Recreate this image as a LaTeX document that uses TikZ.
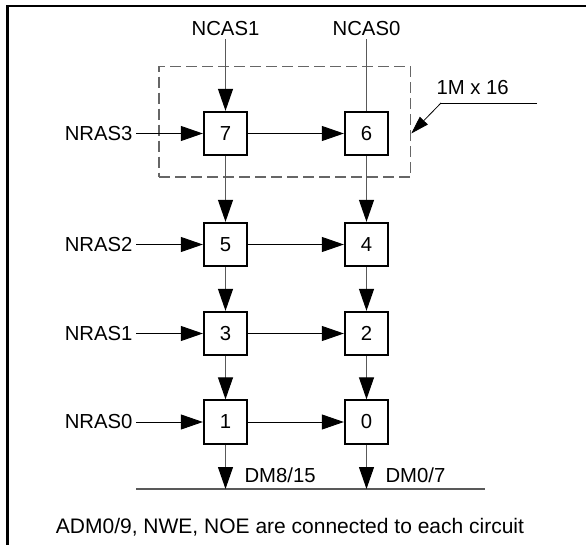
\documentclass[tikz,border=0pt]{standalone}
\usepackage{fontspec}
\setmainfont{Liberation Sans}
\usetikzlibrary{arrows.meta}
\begin{document}
\begin{tikzpicture}[x=1pt,y=-1pt,
  every node/.style={font=\fontsize{20.3}{24}\selectfont},
  chip/.style={draw, line width=1.8pt, minimum size=43.5pt, inner sep=0pt},
  hwire/.style={line width=0.9pt, -{Triangle[length=22pt,width=15pt]}},
  vwire/.style={draw=black!65, line width=1.1pt, -{Triangle[length=22pt,width=15pt,color=black]}},
  vline/.style={draw=black!65, line width=1.1pt},
  group/.style={draw=black!60, line width=1.1pt, dash pattern=on 11pt off 5pt,
    minimum width=251.7pt, minimum height=110.5pt, inner sep=0pt}]
% Page size and the frame (left and top only)
\useasboundingbox (0,0) rectangle (586,545);
\draw[line width=2.5pt] (7.5,545) -- (7.5,6) -- (590,6);

% Column positions of the two byte lanes
\def\xa{225.5}
\def\xb{366.5}

% The 1M x 16 group round the top row
\node[group] (grp) at (284.85,121.75) {};

% Memory circuits
\node[chip] (c7) at (\xa,133.5) {7};
\node[chip] (c6) at (\xb,133.5) {6};
\node[chip] (c5) at (\xa,244.5) {5};
\node[chip] (c4) at (\xb,244.5) {4};
\node[chip] (c3) at (\xa,333.5) {3};
\node[chip] (c2) at (\xb,333.5) {2};
\node[chip] (c1) at (\xa,422) {1};
\node[chip] (c0) at (\xb,422) {0};

% Column strobes
\node (ncas1) at (\xa,28.5) {NCAS1};
\node (ncas0) at (\xb,28.5) {NCAS0};
\draw[vwire] (ncas1) -- (c7);
\draw[vline] (ncas0) -- (c6);

% Row strobes
\node[anchor=east] (nras3) at (136,133.5) {NRAS3};
\node[anchor=east] (nras2) at (136,244.5) {NRAS2};
\node[anchor=east] (nras1) at (136,333.5) {NRAS1};
\node[anchor=east] (nras0) at (136,422) {NRAS0};
\draw[hwire] (nras3) -- (c7);
\draw[hwire] (c7) -- (c6);
\draw[hwire] (nras2) -- (c5);
\draw[hwire] (c5) -- (c4);
\draw[hwire] (nras1) -- (c3);
\draw[hwire] (c3) -- (c2);
\draw[hwire] (nras0) -- (c1);
\draw[hwire] (c1) -- (c0);

% Chains down each column
\draw[vwire] (c7) -- (c5);
\draw[vwire] (c5) -- (c3);
\draw[vwire] (c3) -- (c1);
\draw[vwire] (c6) -- (c4);
\draw[vwire] (c4) -- (c2);
\draw[vwire] (c2) -- (c0);

% Data bus
\coordinate (busl) at (136,489);
\coordinate (busr) at (485,489);
\draw[vline] (busl) -- (busr);
\draw[vwire] (c1) -- (c1 |- busl);
\draw[vwire] (c0) -- (c0 |- busl);
\node[anchor=base west] (dmhi) at (241,482) {DM8/15};
\node[anchor=base west] (dmlo) at (382,482) {DM0/7};

% Size label with its leader
\node[anchor=base west] (size) at (433,95) {1M x 16};
\coordinate (leadl) at (441,103);
\coordinate (leadr) at (537,103);
\draw[line width=0.8pt] (leadr) -- (leadl);
\draw[line width=0.8pt, -{Triangle[length=18pt,width=11pt]}] (leadl) -- (grp.east |- c6);

% Note under the bus
\node[anchor=base, font=\fontsize{21}{24}\selectfont] (note) at (290,533) {ADM0/9, NWE, NOE are connected to each circuit};
\end{tikzpicture}
\end{document}
